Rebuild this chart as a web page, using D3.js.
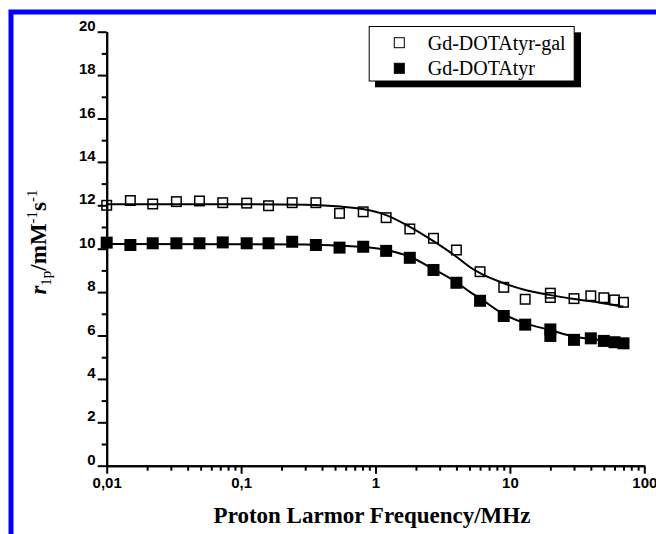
<!DOCTYPE html>
<html>
<head>
<meta charset="utf-8">
<script src="https://cdn.jsdelivr.net/npm/d3@7"></script>
<style>
	body { margin: 0; background: #fff; }
	.tick text { font-family: "Liberation Sans", Arial, sans-serif; font-weight: bold; font-size: 15px; fill: #000; }
</style>
</head>
<body>
<div id="main-container"></div>
<script>

// frequencies in MHz (two points at 20 MHz)
var freqs = [0.01, 0.015, 0.022, 0.033, 0.049, 0.073, 0.11, 0.16, 0.24, 0.36, 0.54, 0.81, 1.2, 1.8, 2.7, 4, 6, 9, 13, 20, 20, 30, 40, 50, 60, 70];
var galValues = [12.0, 12.22, 12.06, 12.17, 12.2, 12.12, 12.1, 11.98, 12.12, 12.12, 11.63, 11.7, 11.43, 10.91, 10.48, 9.94, 8.94, 8.22, 7.67, 7.95, 7.75, 7.7, 7.83, 7.74, 7.64, 7.53];
var tyrValues = [10.28, 10.17, 10.25, 10.25, 10.25, 10.29, 10.25, 10.25, 10.32, 10.17, 10.05, 10.09, 9.9, 9.58, 9.02, 8.43, 7.6, 6.9, 6.5, 6.28, 5.98, 5.8, 5.87, 5.75, 5.69, 5.64];

// fitted curves
var fitFreqs = [0.01, 0.1, 0.3, 0.55, 0.8, 1.2, 1.8, 2.7, 4, 5, 6, 9, 13, 20, 30, 47, 70];
var galFit = [12.05, 12.05, 12.02, 11.94, 11.83, 11.55, 11.01, 10.35, 9.63, 9.17, 8.87, 8.41, 8.1, 7.86, 7.68, 7.51, 7.33];
var tyrFit = [10.22, 10.21, 10.19, 10.14, 10.09, 9.94, 9.63, 9.06, 8.45, 8.02, 7.71, 6.98, 6.56, 6.25, 5.95, 5.79, 5.69];

var seriesNames = ["Gd-DOTAtyr-gal", "Gd-DOTAtyr"];

var xTicks = [0.01, 0.1, 1, 10, 100];
var xTickLabels = ["0,01", "0,1", "1", "10", "100"];
var yTicks = [0, 2, 4, 6, 8, 10, 12, 14, 16, 18, 20];


var width = 656, height = 534;

var svg = d3.select("#main-container").append("svg")
	.attr("width", width)
	.attr("height", height);

svg.append("rect").attr("width", width).attr("height", height).attr("fill", "#fff");

// blue frame, runs off the right and bottom edges
svg.append("rect")
	.attr("x", 11).attr("y", 12)
	.attr("width", 720).attr("height", 600)
	.attr("fill", "none")
	.attr("stroke", "#0000ff")
	.attr("stroke-width", 5);

var x = d3.scaleLog().domain([0.01, 100]).range([106.7, 644.3]);
var y = d3.scaleLinear().domain([0, 20]).range([465.7, 31.7]);


//*******************************************************************************************
//
//		AXES
//
//*******************************************************************************************

var xMinor = [];
[0.01, 0.1, 1, 10].forEach(function(d) {
	for (var k = 2; k <= 9; k++) xMinor.push(d * k);
});
var yMinor = d3.range(1, 20, 2);

var xAxisMinor = svg.append("g")
	.attr("transform", "translate(0," + y(0) + ")")
	.call(d3.axisBottom(x).tickValues(xMinor).tickSize(5).tickSizeOuter(0).tickFormat(""));

var xAxis = svg.append("g")
	.attr("transform", "translate(0," + y(0) + ")")
	.call(d3.axisBottom(x).tickValues(xTicks).tickSize(8).tickSizeOuter(0).tickPadding(4)
		.tickFormat(function(d, i) { return xTickLabels[i]; }));

var yAxisMinor = svg.append("g")
	.attr("transform", "translate(" + x(0.01) + ",0)")
	.call(d3.axisLeft(y).tickValues(yMinor).tickSize(5).tickSizeOuter(0).tickFormat(""));

var yAxis = svg.append("g")
	.attr("transform", "translate(" + x(0.01) + ",0)")
	.call(d3.axisLeft(y).tickValues(yTicks).tickSize(9).tickSizeOuter(0).tickPadding(2));

yAxis.selectAll(".tick text").attr("dy", "-0.1em");

svg.selectAll(".domain, .tick line").attr("stroke", "#000").attr("stroke-width", 2);


// axis titles
svg.append("text")
	.attr("x", 372)
	.attr("y", 523)
	.attr("text-anchor", "middle")
	.style("font-family", "'Liberation Serif', 'Times New Roman', serif")
	.style("font-weight", "bold")
	.style("font-size", "23px")
	.text("Proton Larmor Frequency/MHz");

var yTitle = svg.append("text")
	.attr("transform", "translate(46,242) rotate(-90)")
	.attr("text-anchor", "middle")
	.style("font-family", "'Liberation Serif', 'Times New Roman', serif")
	.style("font-weight", "bold")
	.style("font-size", "23px");
yTitle.append("tspan").style("font-style", "italic").text("r");
yTitle.append("tspan").attr("dy", 5).style("font-size", "15px").style("font-weight", "normal").text("1p");
yTitle.append("tspan").attr("dy", -5).text("/mM");
yTitle.append("tspan").attr("dy", -9).style("font-size", "15px").style("font-weight", "normal").text("-1");
yTitle.append("tspan").attr("dy", 9).text("s");
yTitle.append("tspan").attr("dy", -9).style("font-size", "15px").style("font-weight", "normal").text("-1");


//*******************************************************************************************
//
//		FIT CURVES + POINTS
//
//*******************************************************************************************

var line = d3.line()
	.x(function(d) { return x(d[0]); })
	.y(function(d) { return y(d[1]); })
	.curve(d3.curveMonotoneX);

[galFit, tyrFit].forEach(function(fit) {
	svg.append("path")
		.datum(d3.zip(fitFreqs, fit))
		.attr("d", line)
		.attr("fill", "none")
		.attr("stroke", "#000")
		.attr("stroke-width", 2);
});

var sq = 11;

svg.append("g").selectAll("rect")
	.data(d3.zip(freqs, tyrValues))
	.enter()
	.append("rect")
	.attr("x", function(d) { return x(d[0]) - (sq + 1) / 2; })
	.attr("y", function(d) { return y(d[1]) - (sq + 1) / 2; })
	.attr("width", sq + 1)
	.attr("height", sq + 1)
	.attr("fill", "#000");

svg.append("g").selectAll("rect")
	.data(d3.zip(freqs, galValues))
	.enter()
	.append("rect")
	.attr("x", function(d) { return x(d[0]) - sq / 2 + 0.75; })
	.attr("y", function(d) { return y(d[1]) - sq / 2 + 0.75; })
	.attr("width", sq - 1.5)
	.attr("height", sq - 1.5)
	.attr("fill", "none")
	.attr("stroke", "#000")
	.attr("stroke-width", 1.5);


//*******************************************************************************************
//
//		LEGEND
//
//*******************************************************************************************

var legend = svg.append("g");
legend.append("rect")
	.attr("x", 375).attr("y", 32.3)
	.attr("width", 206).attr("height", 55)
	.attr("fill", "#000");
legend.append("rect")
	.attr("x", 369.2).attr("y", 26.5)
	.attr("width", 205).attr("height", 54.5)
	.attr("fill", "#fff")
	.attr("stroke", "#000")
	.attr("stroke-width", 1);

seriesNames.forEach(function(name, i) {
	var cy = 42.7 + i * 25.6;
	legend.append("rect")
		.attr("x", 399.3 - 5).attr("y", cy - 5)
		.attr("width", 10).attr("height", 10)
		.attr("fill", i == 0 ? "#fff" : "#000")
		.attr("stroke", "#000")
		.attr("stroke-width", 1);
	legend.append("text")
		.attr("x", 427.7)
		.attr("y", cy + 6.8)
		.style("font-family", "'Liberation Serif', 'Times New Roman', serif")
		.style("font-size", "20px")
		.text(name);
});

</script>
</body>
</html>
